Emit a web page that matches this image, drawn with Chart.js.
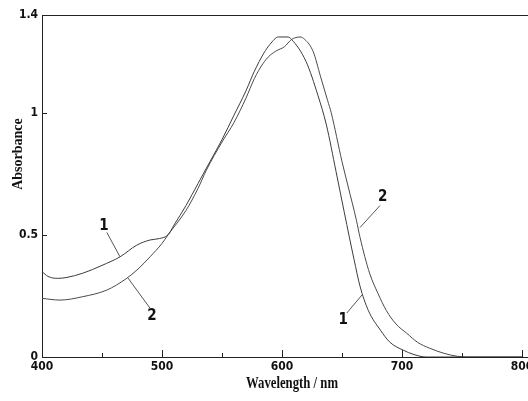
<!DOCTYPE html>
<html>
<head>
<meta charset="utf-8">
<script src="https://cdn.jsdelivr.net/npm/chart.js@4/dist/chart.umd.min.js"></script>
<style>
  html, body { margin: 0; padding: 0; background: #fff; }
  #wrap { width: 528px; height: 401px; }
</style>
</head>
<body>
<div id="wrap"><canvas id="spec" width="528" height="401"></canvas></div>
<script>
// curve 1 : wavelength (nm) / absorbance
const wl1 = [400, 405, 413, 420, 434, 450, 465, 479, 490, 498, 505, 510, 520, 530, 540, 550, 560, 570, 577, 585, 590, 597, 605, 608, 620, 630, 637, 645, 652, 660, 665, 672, 682, 690, 701, 710, 720, 800];
const abs1 = [0.35, 0.33, 0.322, 0.325, 0.343, 0.375, 0.41, 0.458, 0.479, 0.485, 0.50, 0.54, 0.62, 0.71, 0.80, 0.89, 0.99, 1.09, 1.17, 1.245, 1.28, 1.31, 1.31, 1.30, 1.21, 1.07, 0.95, 0.76, 0.59, 0.40, 0.29, 0.19, 0.11, 0.06, 0.028, 0.01, 0.0, 0.0];

// curve 2
const wl2 = [400, 415, 434, 454, 470, 480, 490, 500, 505, 520, 530, 537, 550, 560, 570, 577, 584, 590, 596, 602, 608, 615, 619, 626, 632, 638, 641, 650, 655, 662, 665, 673, 680, 687, 695, 704, 713, 723, 735, 746, 754, 800];
const abs2 = [0.24, 0.233, 0.247, 0.274, 0.32, 0.36, 0.41, 0.465, 0.50, 0.60, 0.69, 0.765, 0.88, 0.96, 1.06, 1.14, 1.20, 1.235, 1.255, 1.27, 1.30, 1.31, 1.30, 1.25, 1.15, 1.05, 1.0, 0.80, 0.70, 0.56, 0.49, 0.343, 0.26, 0.19, 0.135, 0.097, 0.06, 0.036, 0.015, 0.003, 0, 0];

// ticks
const xTicks = [400, 500, 600, 700, 800];
const xMinorTicks = [450, 550, 650, 750];
const yTicks = [0, 0.5, 1, 1.4];

// curve labels (text, text position, leader line start / end) in data units
const labelText = ['1', '2', '2', '1'];
const labelAt = [[451.7, 0.536], [491.7, 0.168], [684, 0.655], [651, 0.15]];
const leaderFrom = [[454, 0.51], [490, 0.20], [681.7, 0.62], [654, 0.18]];
const leaderTo = [[465, 0.41], [471.7, 0.323], [665, 0.53], [666.7, 0.254]];

const narrow = '"Liberation Sans Narrow", "DejaVu Sans Condensed", sans-serif';
const serif = '"Liberation Serif", "DejaVu Serif", serif';

function toPoints(xs, ys) {
    return xs.map((x, i) => ({ x: x, y: ys[i] }));
}

// ticks inside, frame, axis titles, curve labels
const extras = {
    id: 'extras',
    afterDraw(chart) {
        const ctx = chart.ctx;
        const xs = chart.scales.x, ys = chart.scales.y;
        const a = chart.chartArea;
        ctx.save();
        ctx.strokeStyle = '#222';
        ctx.lineWidth = 1;

        // top line + bottom line to the edge
        ctx.beginPath();
        ctx.moveTo(a.left, a.top + 0.5);
        ctx.lineTo(chart.width, a.top + 0.5);
        ctx.moveTo(a.right, a.bottom + 0.5);
        ctx.lineTo(chart.width, a.bottom + 0.5);
        ctx.stroke();

        // x ticks pointing up
        ctx.beginPath();
        xTicks.forEach(v => {
            const px = Math.round(xs.getPixelForValue(v)) + 0.5;
            ctx.moveTo(px, a.bottom);
            ctx.lineTo(px, a.bottom - 7);
        });
        xMinorTicks.forEach(v => {
            const px = Math.round(xs.getPixelForValue(v)) + 0.5;
            ctx.moveTo(px, a.bottom);
            ctx.lineTo(px, a.bottom - 4);
        });
        // y ticks pointing right
        yTicks.slice(1, -1).forEach(v => {
            const py = Math.round(ys.getPixelForValue(v)) + 0.5;
            ctx.moveTo(a.left, py);
            ctx.lineTo(a.left + 5, py);
        });
        ctx.stroke();

        // x title, condensed
        ctx.fillStyle = '#111';
        ctx.font = 'bold 17px ' + serif;
        ctx.textAlign = 'center';
        ctx.textBaseline = 'middle';
        const xt = 'Wavelength / nm';
        const w = ctx.measureText(xt).width;
        ctx.save();
        ctx.translate(292, 384);
        ctx.scale(92 / w, 1);
        ctx.fillText(xt, 0, 0);
        ctx.restore();

        // y title
        ctx.save();
        ctx.translate(18, 154);
        ctx.rotate(-Math.PI / 2);
        ctx.font = 'bold 14px ' + serif;
        ctx.fillText('Absorbance', 0, 0);
        ctx.restore();

        // curve labels
        ctx.strokeStyle = '#555';
        ctx.beginPath();
        leaderFrom.forEach((p, i) => {
            ctx.moveTo(xs.getPixelForValue(p[0]), ys.getPixelForValue(p[1]));
            ctx.lineTo(xs.getPixelForValue(leaderTo[i][0]), ys.getPixelForValue(leaderTo[i][1]));
        });
        ctx.stroke();
        ctx.font = 'bold 15px ' + narrow;
        labelText.forEach((t, i) => {
            ctx.fillText(t, xs.getPixelForValue(labelAt[i][0]), ys.getPixelForValue(labelAt[i][1]));
        });
        ctx.restore();
    }
};

new Chart(document.getElementById('spec'), {
    type: 'line',
    data: {
        datasets: [
            {
                label: '1',
                data: toPoints(wl1, abs1),
                borderColor: '#3c3c3c',
                borderWidth: 1,
                pointRadius: 0,
                cubicInterpolationMode: 'monotone',
                fill: false
            },
            {
                label: '2',
                data: toPoints(wl2, abs2),
                borderColor: '#4a4a4a',
                borderWidth: 1,
                pointRadius: 0,
                cubicInterpolationMode: 'monotone',
                fill: false
            }
        ]
    },
    options: {
        responsive: false,
        animation: false,
        events: [],
        layout: { padding: { top: 15, right: 6, left: 0, bottom: 0 } },
        plugins: {
            legend: { display: false },
            tooltip: { enabled: false }
        },
        scales: {
            x: {
                type: 'linear',
                min: 400,
                max: 800,
                afterBuildTicks: s => { s.ticks = xTicks.map(v => ({ value: v })); },
                afterFit: s => { s.height = 44; s.paddingLeft = 0; s.paddingRight = 0; },
                grid: { display: false, drawTicks: false },
                border: { display: true, color: '#222', width: 1 },
                ticks: {
                    padding: 3,
                    color: '#111',
                    font: { family: narrow, size: 12, weight: 'bold' }
                }
            },
            y: {
                min: 0,
                max: 1.4,
                afterBuildTicks: s => { s.ticks = yTicks.map(v => ({ value: v })); },
                afterFit: s => { s.width = 42; s.paddingTop = 0; s.paddingBottom = 0; },
                grid: { display: false, drawTicks: false },
                border: { display: true, color: '#222', width: 1 },
                ticks: {
                    padding: 4,
                    color: '#111',
                    font: { family: narrow, size: 12, weight: 'bold' },
                    callback: v => String(v)
                }
            }
        }
    },
    plugins: [extras]
});
</script>
</body>
</html>
